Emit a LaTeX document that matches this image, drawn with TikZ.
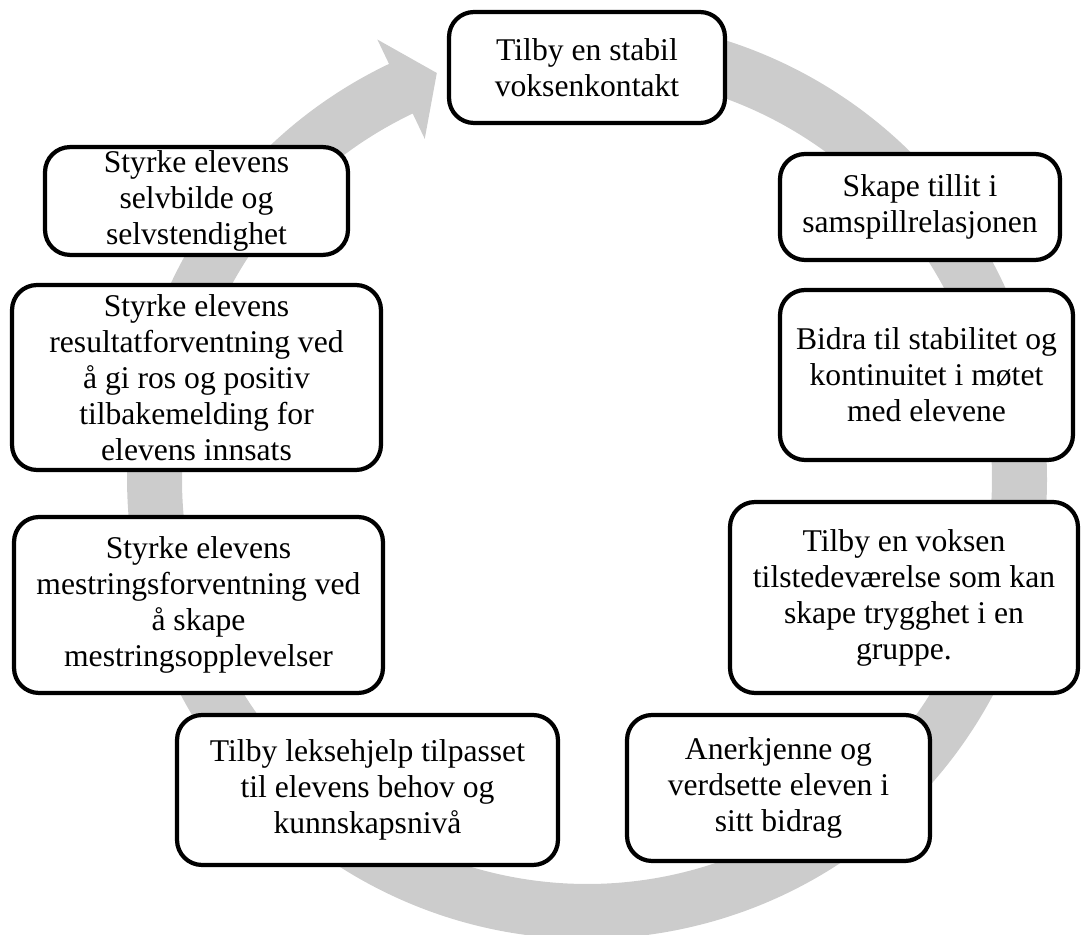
\documentclass[tikz,border=0pt]{standalone}
\usepackage{fontspec}
\setmainfont{Liberation Serif}
\begin{document}
\begin{tikzpicture}[x=0.02cm,y=-0.02cm,
    cyclebox/.style={draw=black, line width=2.4pt, rounded corners=0.5cm, fill=white,
        align=center, inner sep=2pt, font=\fontsize{18}{20.5}\selectfont}]
    \useasboundingbox (0,0) rectangle (1083,935);

    % draw the grey circular arrow behind the boxes
    \begin{scope}[shift={(587,479)}]
        \fill[black!20] (102:9.2cm)
            arc[start angle=102, end angle=-244.5, radius=9.2cm]
            -- (-244.5:9.74cm) -- (-249.7:8.66cm) -- (-244.5:7.54cm)
            -- (-244.5:8.1cm)
            arc[start angle=-244.5, end angle=102, radius=8.1cm] -- cycle;
    \end{scope}

    % draw the boxes, clockwise from the top
    \node[cyclebox, minimum width=5.52cm, minimum height=2.22cm] (kontakt) at (587,67.5)
        {Tilby en stabil\\voksenkontakt};
    \node[cyclebox, minimum width=5.6cm, minimum height=2.12cm] (tillit) at (920,207)
        {Skape tillit i\\samspillrelasjonen};
    \node[cyclebox, minimum width=5.86cm, minimum height=3.4cm] (stabilitet) at (926.5,375)
        {Bidra til stabilitet og\\kontinuitet i møtet\\med elevene};
    \node[cyclebox, minimum width=6.96cm, minimum height=3.82cm] (tilstede) at (904,597.5)
        {Tilby en voksen\\tilstedeværelse som kan\\skape trygghet i en\\gruppe.};
    \node[cyclebox, minimum width=6.06cm, minimum height=2.92cm] (anerkjenne) at (778.5,788)
        {Anerkjenne og\\verdsette eleven i\\sitt bidrag};
    \node[cyclebox, minimum width=7.62cm, minimum height=3.0cm] (leksehjelp) at (367.5,790)
        {Tilby leksehjelp tilpasset\\til elevens behov og\\kunnskapsnivå};
    \node[cyclebox, minimum width=7.38cm, minimum height=3.52cm] (mestring) at (198.5,605)
        {Styrke elevens\\mestringsforventning ved\\å skape\\mestringsopplevelser};
    \node[cyclebox, minimum width=7.38cm, minimum height=3.7cm] (resultat) at (196.5,377.5)
        {Styrke elevens\\resultatforventning ved\\å gi ros og positiv\\tilbakemelding for\\elevens innsats};
    \node[cyclebox, minimum width=6.06cm, minimum height=2.08cm] (selvbilde) at (196.5,201)
        {Styrke elevens\\selvbilde og\\selvstendighet};
\end{tikzpicture}
\end{document}
